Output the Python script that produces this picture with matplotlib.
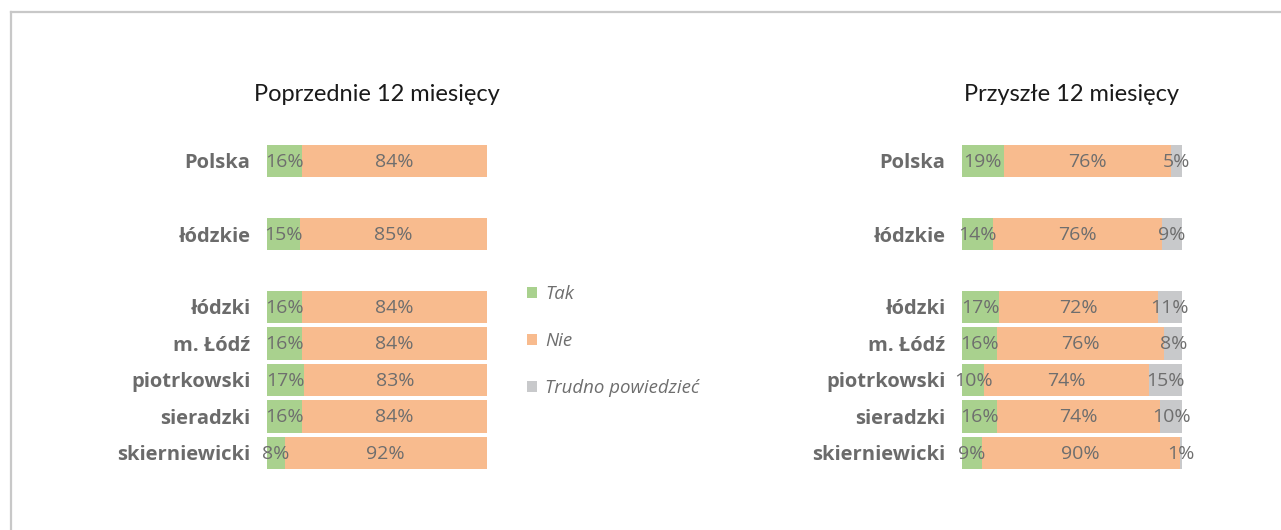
import numpy as np
import matplotlib.pyplot as plt
from matplotlib.patches import Patch
from matplotlib.lines import Line2D

plt.rcParams['font.family'] = ['Open Sans', 'DejaVu Sans']

# data
categories = ['Polska', 'łódzkie', 'łódzki', 'm. Łódź', 'piotrkowski', 'sieradzki', 'skierniewicki']
positions = [0, 2, 4, 5, 6, 7, 8]
series_names = ['Tak', 'Nie', 'Trudno powiedzieć']

prev_tak = [16, 15, 16, 16, 17, 16, 8]
prev_nie = [84, 85, 84, 84, 83, 84, 92]

next_tak = [19, 14, 17, 16, 10, 16, 9]
next_nie = [76, 76, 72, 76, 74, 74, 90]
next_trudno = [5, 9, 11, 8, 15, 10, 1]

colors = ['#a9d18e', '#f8bb8e', '#c8c9cb']
label_color = '#6e6e6e'

fig = plt.figure(figsize=(12.81, 5.30), dpi=100)

# frame around the chart (only top and left edges visible)
fig.add_artist(Line2D([11 / 1281, 11 / 1281], [1 - 12 / 530, 0], transform=fig.transFigure,
                      color='#c8c8c8', lw=1.6))
fig.add_artist(Line2D([11 / 1281, 1], [1 - 12 / 530, 1 - 12 / 530], transform=fig.transFigure,
                      color='#c8c8c8', lw=1.6))


def draw_panel(ax, series, title):
    vals = np.array(series, dtype=float)
    shares = vals / vals.sum(axis=0) * 100
    left = np.zeros(len(categories))
    for i in range(len(series)):
        ax.barh(positions, shares[i], left=left, height=0.9, color=colors[i])
        for y, l, w, v in zip(positions, left, shares[i], vals[i]):
            ax.text(l + w / 2, y + 0.02, f'{int(v)}%', ha='center', va='center',
                    fontsize=14, color=label_color)
        left += shares[i]
    ax.set_xlim(0, 100)
    ax.set_ylim(8.5, -0.5)
    ax.set_yticks(positions)
    ax.set_yticklabels(categories, fontsize=14.5, fontweight='bold', color='#6b6b6b')
    ax.tick_params(axis='y', length=0, pad=12)
    ax.set_xticks([])
    for s in ax.spines.values():
        s.set_visible(False)
    ax.set_title(title, fontsize=17, color='#1a1a1a', pad=30, family=['Lato', 'DejaVu Sans'])


bottom = 1 - 471.25 / 530
height = 328.5 / 530
ax1 = fig.add_axes([267 / 1281, bottom, 220 / 1281, height])
ax2 = fig.add_axes([962 / 1281, bottom, 220 / 1281, height])

draw_panel(ax1, [prev_tak, prev_nie], 'Poprzednie 12 miesięcy')
draw_panel(ax2, [next_tak, next_nie, next_trudno], 'Przyszłe 12 miesięcy')

handles = [Patch(facecolor=c, edgecolor='none') for c in colors]
fig.legend(handles, series_names, loc='upper left', bbox_to_anchor=(527 / 1281, 1 - 285 / 530),
           frameon=False, labelcolor=label_color, prop={'style': 'italic', 'size': 13.4},
           handlelength=0.52, handleheight=0.52, handletextpad=0.45, labelspacing=1.55, borderpad=0,
           borderaxespad=0)

plt.savefig('out.png', dpi=100)
